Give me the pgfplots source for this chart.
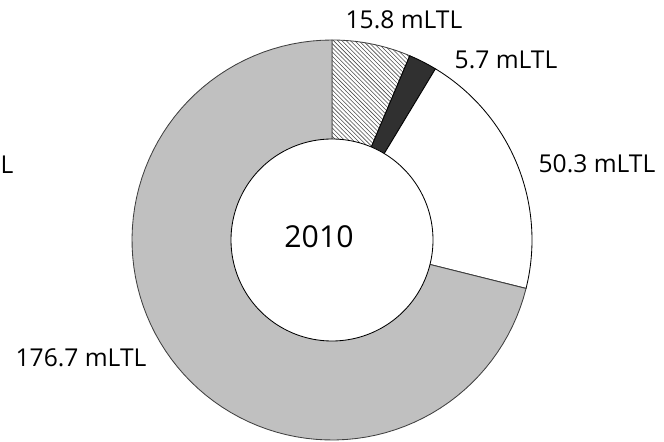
\documentclass[border=0pt]{standalone}
\usepackage{pgfplots}
\pgfplotsset{compat=1.18}
\usepackage{pgfplotstable}
\usetikzlibrary{patterns}
\usepackage{fontspec}
\setmainfont{Open Sans}
\definecolor{sgray}{HTML}{C0C0C0}
\definecolor{sdark}{HTML}{303030}

\pgfplotstableread{
value
15.8
5.7
50.3
176.7
}\donut

\begin{document}
\begin{tikzpicture}
\begin{axis}[
  scale only axis, width=16.6cm, height=11.025cm,
  xmin=0, xmax=664, ymin=0, ymax=441,
  hide axis, clip=true,
]
\path (axis cs:0,0) rectangle (axis cs:664,441);
% totals
\gdef\total{0}
\foreach \i in {0,...,3}{%
  \pgfplotstablegetelem{\i}{value}\of\donut
  \pgfmathsetmacro{\tmp}{\total+\pgfplotsretval}\global\let\total\tmp
}
\def\cx{332}\def\cy{201}\def\R{200}\def\r{101}
\gdef\cum{0}
% styles for the slices
\pgfplotsset{
  slice0/.style={draw=black!75, line width=0.6pt, pattern=north west lines, pattern color=black!70},
  slice1/.style={draw=black, line width=0.6pt, fill=sdark},
  slice2/.style={draw=black, line width=0.6pt, fill=white},
  slice3/.style={draw=black!75, line width=0.6pt, fill=sgray},
}
\foreach \i in {0,...,3}{%
  \pgfplotstablegetelem{\i}{value}\of\donut
  \pgfmathsetmacro{\aEnd}{90-\cum/\total*360}
  \pgfmathsetmacro{\newcum}{\cum+\pgfplotsretval}
  \pgfmathsetmacro{\aStart}{90-\newcum/\total*360}
  \global\let\cum\newcum
  \edef\temp{\noexpand\addplot[slice\i, domain=\aStart:\aEnd, samples=90, variable=\noexpand\u]
    ({\cx+\R*cos(\noexpand\u)},{\cy+\R*sin(\noexpand\u)}) -- (axis cs:\cx,\cy) -- cycle;}
  \temp
}
\addplot[draw=black, line width=0.6pt, fill=white, domain=0:360, samples=180, variable=\u]
  ({332+101*cos(\u)},{201+101*sin(\u)}) -- cycle;

\tikzset{lbl/.style={font=\fontsize{17.5}{20}\selectfont, inner sep=0pt}}
\node[font=\fontsize{21.5}{24}\selectfont, inner sep=0pt] at (axis cs:319,204.5) {2010};
\node[lbl] at (axis cs:404,421) {15.8 mLTL};
\node[lbl] at (axis cs:506,381.5) {5.7 mLTL};
\node[lbl] at (axis cs:597,277) {50.3 mLTL};
\node[lbl] at (axis cs:81,83.5) {176.7 mLTL};
\node[lbl] at (axis cs:7,276) {L};
\end{axis}
\end{tikzpicture}
\end{document}
